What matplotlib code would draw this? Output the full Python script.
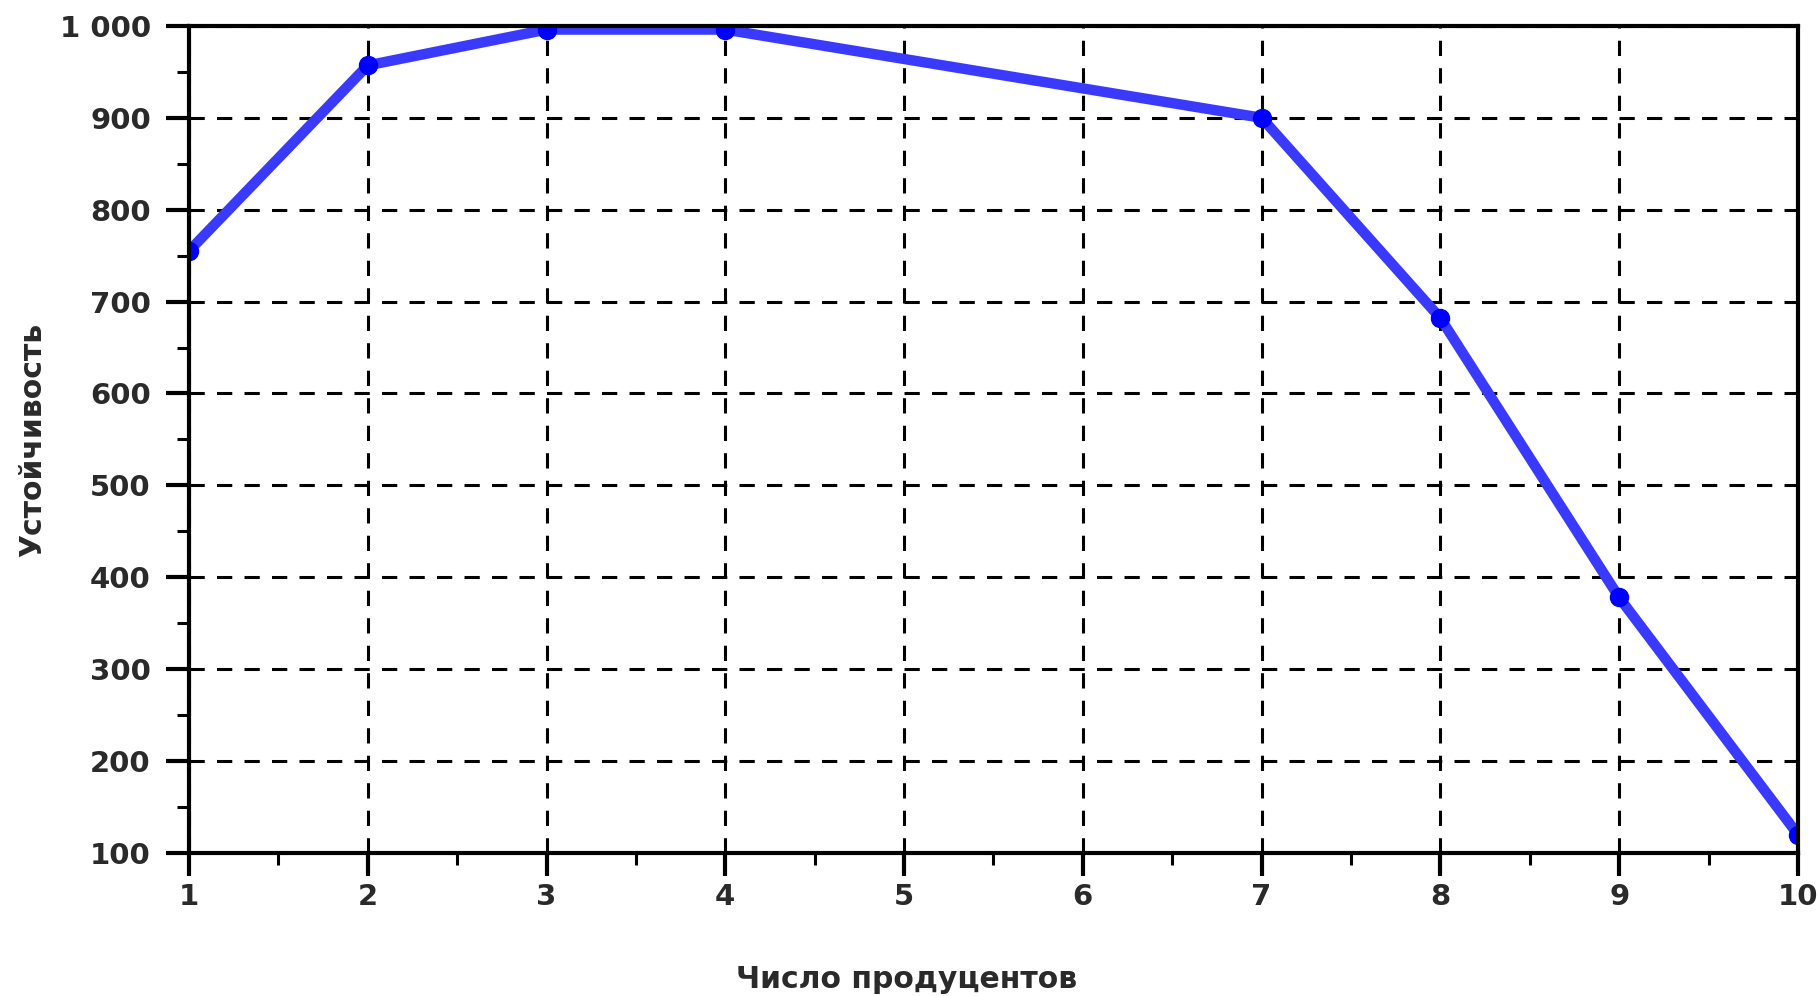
import matplotlib
matplotlib.use("Agg")
import matplotlib.pyplot as plt
from matplotlib.ticker import MultipleLocator

# data
producers = [1, 2, 3, 4, 7, 8, 9, 10]
stability = [755, 957, 996, 996, 900, 682, 378, 120]

x_ticks = [1, 2, 3, 4, 5, 6, 7, 8, 9, 10]
y_ticks = [100, 200, 300, 400, 500, 600, 700, 800, 900, 1000]
y_tick_labels = ["100", "200", "300", "400", "500", "600", "700", "800", "900", "1 000"]

plt.rcParams['font.family'] = ['DejaVu Sans']

fig = plt.figure(figsize=(18.17, 9.96), dpi=100)
ax = fig.add_axes([0.104, 0.1436, 0.8855, 0.8304])

ax.plot(producers, stability, color='#3a3aff', lw=7.5, marker='o',
        markersize=13, markerfacecolor='#0000ff', markeredgecolor='#0000ff',
        solid_joinstyle='round', zorder=3)

ax.set_xlim(1, 10)
ax.set_ylim(100, 1000)
ax.set_xticks(x_ticks)
ax.set_yticks(y_ticks)
ax.set_yticklabels(y_tick_labels)
ax.xaxis.set_minor_locator(MultipleLocator(0.5))
ax.yaxis.set_minor_locator(MultipleLocator(50))

ax.grid(True, which='major', color='black', linestyle=(0, (5, 4)), linewidth=2.2, zorder=1)

for s in ax.spines.values():
    s.set_linewidth(3)
    s.set_zorder(4)

ax.tick_params(which='major', direction='out', length=16.5, width=3,
               labelsize=21, labelcolor='#2a2a2a')
ax.tick_params(axis='y', which='major', pad=11)
ax.tick_params(axis='x', which='major', pad=5)
ax.tick_params(which='minor', direction='out', length=8.5, width=2.2)
for lab in ax.get_xticklabels() + ax.get_yticklabels():
    lab.set_fontweight('bold')

ax.set_xlabel("Число продуцентов", fontsize=21.5, color='#2a2a2a', fontweight='bold')
ax.xaxis.set_label_coords(0.446, -0.153)
ax.xaxis.label.set_verticalalignment('center')
ax.set_ylabel("Устойчивость", fontsize=21.5, color='#2a2a2a', fontweight='bold')
ax.yaxis.set_label_coords(-0.097, 0.5)
ax.yaxis.label.set_verticalalignment('center')

fig.savefig("out.png", dpi=100)
